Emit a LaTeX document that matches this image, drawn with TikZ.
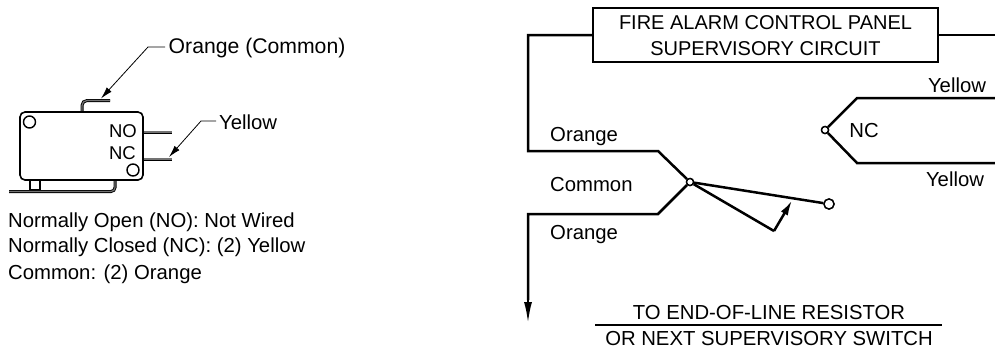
\documentclass[tikz,border=0pt]{standalone}
\usepackage{fontspec}
\setmainfont{Liberation Sans}
\usetikzlibrary{arrows.meta}
\tikzset{
 lbl/.style={inner sep=0pt,font=\fontsize{20.3}{24}\selectfont},
 big/.style={inner sep=0pt,font=\fontsize{21.2}{24}\selectfont},
 small/.style={inner sep=0pt,font=\fontsize{18.5}{22}\selectfont},
 plate/.style={inner sep=0pt,font=\fontsize{20}{26}\selectfont,align=center},
 wire/.style={line width=2.5pt,line join=miter},
 body/.style={line width=1.6pt},
 strip/.style={line width=0.9pt,double=black!55,double distance=1.2pt},
 leader/.style={line width=0.8pt,-{Latex[length=12pt,width=6.5pt]}},
 hole/.style={circle,draw,fill=white,inner sep=0pt,line width=1.4pt},
}
\begin{document}
\begin{tikzpicture}[x=1pt,y=-1pt]
\useasboundingbox (0,0) rectangle (995,349);
% switch body
\draw[strip,rounded corners=5pt] (82,111) -- (82,100.5) -- (110,100.5);
\draw[strip] (143,132) -- (172,132);
\draw[strip] (143,159) -- (172,159);
\draw[body] (30,180) rectangle (40,190);
\draw[strip,rounded corners=4pt] (9,191.5) -- (115,191.5) -- (115,180);
\draw[body,rounded corners=5pt,fill=white] (20,112) rectangle (143,180);
\node[hole,minimum size=12pt] (h1) at (29.5,122) {};
\node[hole,minimum size=12pt] (h2) at (133,170) {};
\coordinate (tabtip) at (101,98.5);
\coordinate (pintip) at (169,157);
\coordinate (l1a) at (165,47);
\coordinate (l1b) at (148,47);
\coordinate (l2a) at (216,121);
\coordinate (l2b) at (201,121);
\draw[leader] (l1a) -- (l1b) -- (tabtip);
\draw[leader] (l2a) -- (l2b) -- (pintip);
\node[big,anchor=west] (oc) at (168.5,48) {Orange (Common)};
\node[lbl,anchor=west] (ye) at (219,122) {Yellow};
\node[small,anchor=center] (no) at (123,131) {NO};
\node[small,anchor=center] (nc) at (122.5,153.5) {NC};
\node[lbl,anchor=west] (t1) at (8,222) {Normally Open (NO): Not Wired};
\node[lbl,anchor=west] (t2) at (8,247) {Normally Closed (NC): (2) Yellow};
\node[lbl,anchor=west] (t3) at (8,274) {Common: (2) Orange};
% circuit
\node[draw,wire,minimum width=345pt,minimum height=54pt] (panel) at (765.5,35) {};
\node[plate] (paneltext) at (765.5,36) {FIRE ALARM CONTROL PANEL\\SUPERVISORY CIRCUIT};
\node[hole,minimum size=7pt] (com) at (690,182) {};
\node[hole,minimum size=10pt] (nodeNO) at (829,204) {};
\node[hole,minimum size=7pt] (nodeNC) at (825,130) {};
\coordinate (e1) at (995,35);
\coordinate (e2) at (995,98);
\coordinate (e3) at (995,163);
\coordinate (tip) at (528,324);
\coordinate (hook) at (774,231);
\coordinate (bladept) at (792,200.5);
\draw[wire] (panel.west) -- (528,35) -- (528,151) -- (658,151) -- (com);
\draw[wire] (com) -- (658,214) -- (528,214) -- (528,300);
\draw[wire,-{Latex[length=22pt,width=8pt]}] (528,214) -- (tip);
\draw[wire] (panel.east) -- (e1);
\draw[wire] (e2) -- (857,98) -- (nodeNC) -- (857,163) -- (e3);
\draw[wire] (com) -- (nodeNO);
\draw[wire] (com) -- (hook);
\draw[wire,-{Latex[length=15pt,width=8pt]}] (hook) -- (bladept);
\node[hole,minimum size=7pt] at (com) {};
\node[hole,minimum size=10pt] at (nodeNO) {};
\node[hole,minimum size=7pt] at (nodeNC) {};
\node[lbl,anchor=west] (o1) at (550,137) {Orange};
\node[lbl,anchor=west] (cm) at (550,185) {Common};
\node[lbl,anchor=west] (o2) at (550,235) {Orange};
\node[lbl,anchor=center] (y1) at (957,85) {Yellow};
\node[lbl,anchor=center] (y2) at (955,179) {Yellow};
\node[lbl,anchor=center] (ncl) at (864,131) {NC};
\node[lbl,anchor=center] (to1) at (769,313) {TO END-OF-LINE RESISTOR};
\node[lbl,anchor=center] (to2) at (769,338.5) {OR NEXT SUPERVISORY SWITCH};
\coordinate (r1) at (595,325);
\coordinate (r2) at (942,325);
\draw[line width=1.2pt] (r1) -- (r2);
\end{tikzpicture}
\end{document}
